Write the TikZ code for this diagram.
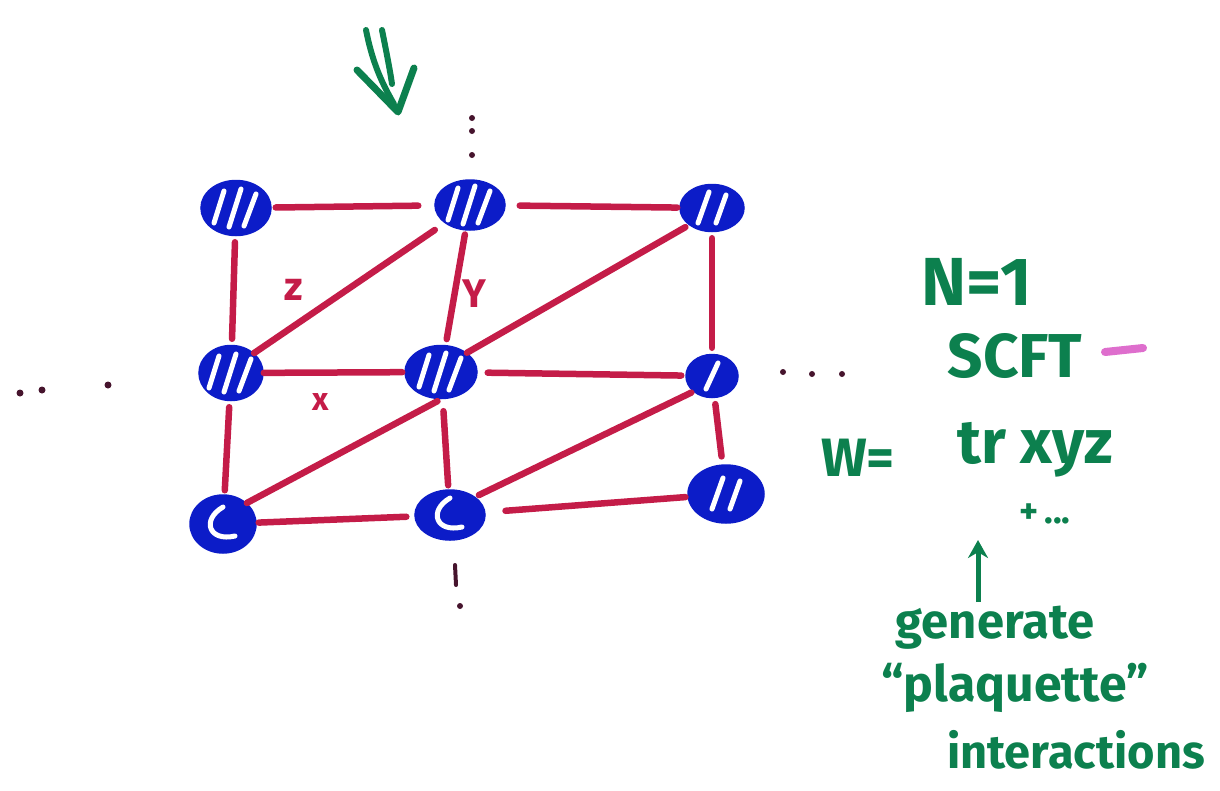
\documentclass[tikz,border=0pt]{standalone}
\usepackage{fontspec}
\setmainfont{Fira Sans}
\usetikzlibrary{shapes.geometric,arrows.meta}
\definecolor{mkblue}{RGB}{12,28,200}
\definecolor{mkred}{RGB}{196,28,72}
\definecolor{mkgreen}{RGB}{12,128,78}
\definecolor{mkdot}{RGB}{70,20,45}
\definecolor{mkpink}{RGB}{222,110,205}
\tikzset{
  site/.style={ellipse, fill=mkblue, draw=mkblue, line width=1.5pt, inner sep=0pt,
    minimum width=68pt, minimum height=52pt},
  hatchthree/.style={path picture={\draw[white,line width=5pt,line cap=round,shift={(path picture bounding box.center)}]
      (-22,15)--(-12,-17) (-7,19)--(5,-19) (8,18)--(20,-14);}},
  hatchtwo/.style={path picture={\draw[white,line width=5pt,line cap=round,shift={(path picture bounding box.center)}]
      (-14,15)--(-3,-16) (4,15)--(14,-13);}},
  hatchone/.style={path picture={\draw[white,line width=5pt,line cap=round,shift={(path picture bounding box.center)}]
      (-6,13)--(6,-13);}},
  hatchcurve/.style={path picture={\draw[white,line width=5pt,line cap=round,shift={(path picture bounding box.center)}]
      (0,-17) .. controls (-22,-4) and (-14,18) .. (12,12);}},
  bond/.style={draw=mkred, line width=6.5pt, line cap=round},
  dotmark/.style={circle, fill=mkdot, inner sep=0pt, minimum size=7pt},
  greentext/.style={text=mkgreen, font=\bfseries, inner sep=0pt},
  redlabel/.style={text=mkred, font=\bfseries\fontsize{40}{42}\selectfont, inner sep=0pt},
}
\begin{document}
\begin{tikzpicture}[x=1pt,y=-1pt]
\useasboundingbox (0,0) rectangle (1220,790);
% sites
\node[site,hatchthree,minimum width=70pt,minimum height=55pt] (n11) at (236,208) {};
\node[site,hatchthree,minimum width=70pt,minimum height=50pt] (n12) at (470,205) {};
\node[site,hatchtwo,minimum width=64pt,minimum height=47pt] (n13) at (712,208) {};
\node[site,hatchthree,minimum width=64pt,minimum height=55pt] (n21) at (231,373) {};
\node[site,hatchthree,minimum width=72pt,minimum height=53pt] (n22) at (441,372) {};
\node[site,hatchone,minimum width=52pt,minimum height=43pt] (n23) at (712,376) {};
\node[site,hatchcurve,minimum width=66pt,minimum height=58pt] (n31) at (223,524) {};
\node[site,hatchcurve,minimum width=70pt,minimum height=50pt] (n32) at (450,515) {};
\node[site,hatchtwo,minimum width=76pt,minimum height=58pt] (n33) at (726,494) {};
% horizontal bonds
\draw[bond,shorten <=4pt,shorten >=16pt] (n11) -- (n12);
\draw[bond,shorten <=14pt,shorten >=2pt] (n12) -- (n13);
\draw[bond,shorten <=0pt,shorten >=2pt] (n21) -- (n22);
\draw[bond,shorten <=10pt,shorten >=4pt] (n22) -- (n23);
\draw[bond,shorten <=2pt,shorten >=8pt] (n31) -- (n32);
\draw[bond,shorten <=20pt,shorten >=2pt] (n32) -- (n33);
% vertical bonds
\draw[bond,shorten <=6pt,shorten >=6pt] (n11) -- (n21);
\draw[bond,shorten <=6pt,shorten >=4pt] (n21) -- (n31);
\draw[bond,shorten <=4pt,shorten >=6pt] (n12) -- (n22);
\draw[bond,shorten <=12pt,shorten >=4pt] (n22) -- (n32);
\draw[bond,shorten <=6pt,shorten >=6pt] (n13) -- (n23);
\draw[bond,shorten <=6pt,shorten >=8pt] (n23) -- (n33);
% diagonal bonds
\draw[bond,shorten <=0pt,shorten >=12pt] (n21.north east) -- (n12.south west);
\draw[bond,shorten <=0pt,shorten >=4pt] (n22.north east) -- (n13.south west);
\draw[bond,shorten <=0pt,shorten >=4pt] (n31.north east) -- (n22.south);
\draw[bond,shorten <=4pt,shorten >=2pt] (n32.north east) -- (n23.south west);
% bond labels
\node[redlabel] (lz) at (294,290) {z};
\node[redlabel] (ly) at (474,294) {Y};
\node[redlabel,font=\bfseries\fontsize{32}{34}\selectfont] (lx) at (321,402) {x};
% ellipsis dots
\node[dotmark] (dl1) at (20,393) {};
\node[dotmark] (dl2) at (42,390) {};
\node[dotmark] (dl3) at (108,385) {};
\node[dotmark,minimum size=6pt] (dr1) at (783,372) {};
\node[dotmark,minimum size=6pt] (dr2) at (812,374) {};
\node[dotmark,minimum size=6pt] (dr3) at (842,374) {};
\node[dotmark,minimum size=6pt] (dt1) at (472,118) {};
\node[dotmark,minimum size=6pt] (dt2) at (472,131) {};
\node[dotmark,minimum size=6pt] (dt3) at (472,155) {};
\draw[mkdot,line width=4pt,line cap=round] (455,565) -- (456,585);
\node[dotmark,minimum size=6pt] (db) at (460,606) {};
% green double arrow
\draw[mkgreen,line width=6pt,line cap=round] (366,30) .. controls (372,60) and (380,80) .. (394,104);
\draw[mkgreen,line width=6pt,line cap=round] (382,30) .. controls (386,50) and (390,70) .. (392,84);
\draw[mkgreen,line width=7pt,line cap=round,line join=round] (357,70) -- (398,112) -- (414,68);
% right-hand text
\node[greentext,font=\bfseries\fontsize{68}{68}\selectfont] (tN) at (977,282) {N=1};
\node[greentext,font=\bfseries\fontsize{62}{62}\selectfont] (tS) at (1015,356) {SCFT};
\draw[mkpink,line width=8pt,line cap=round] (1105,352) -- (1143,348);
\node[greentext,font=\bfseries\fontsize{54}{54}\selectfont] (tW) at (858,458) {W=};
\node[greentext,font=\bfseries\fontsize{62}{62}\selectfont] (tT) at (1035,450) {tr xyz};
\node[greentext,font=\bfseries\fontsize{36}{36}\selectfont] (tP) at (1045,514) {+\,...};
\coordinate (atail) at (978,602);
\coordinate (ahead) at (978,540);
\draw[mkgreen,line width=5pt,-{Stealth[length=18pt,width=20pt]}] (atail) -- (ahead);
\node[greentext,font=\bfseries\fontsize{49}{49}\selectfont] (tg) at (995,628) {generate};
\node[greentext,font=\bfseries\fontsize{50}{50}\selectfont] (tq) at (1015,688) {``plaquette''};
\node[greentext,font=\bfseries\fontsize{47}{47}\selectfont] (ti) at (1076,750) {interactions};
\end{tikzpicture}
\end{document}
